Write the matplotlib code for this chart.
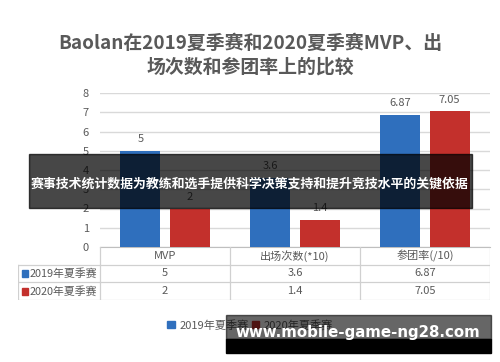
import matplotlib
matplotlib.use("Agg")
import matplotlib.pyplot as plt
from matplotlib.patches import Rectangle
from matplotlib.lines import Line2D
import numpy as np

plt.rcParams['font.family'] = ['Noto Sans CJK SC', 'DejaVu Sans']

# 数据
categories = ["MVP", "出场次数(*10)", "参团率(/10)"]
series_names = ["2019年夏季赛", "2020年夏季赛"]
values_2019 = [5, 3.6, 6.87]
values_2020 = [2, 1.4, 7.05]
labels_2019 = ["5", "3.6", "6.87"]
labels_2020 = ["2", "1.4", "7.05"]
yticks = [0, 1, 2, 3, 4, 5, 6, 7, 8]

title = "Baolan在2019夏季赛和2020夏季赛MVP、出\n场次数和参团率上的比较"
overlay_text = "赛事技术统计数据为教练和选手提供科学决策支持和提升竞技水平的关键依据"
watermark = "www.mobile-game-ng28.com"

c2019 = "#2F6FBD"
c2020 = "#C3302C"
gray = "#595959"
grid = "#D9D9D9"

W, H = 500, 362
fig = plt.figure(figsize=(5, 3.62), dpi=100)

def fx(px):
    return px / W

def fy(py):
    return 1 - py / H

# 主图
ax = fig.add_axes([fx(100), fy(247), fx(490) - fx(100), fy(93) - fy(247)])
x = np.arange(len(categories))
w = 0.31
off = 0.19
ax.bar(x - off, values_2019, w, color=c2019, zorder=3)
ax.bar(x + off, values_2020, w, color=c2020, zorder=3)
for i in range(len(categories)):
    ax.text(x[i] - off, values_2019[i] + 0.35, labels_2019[i], ha="center", va="bottom",
            fontsize=8, color=gray)
    ax.text(x[i] + off, values_2020[i] + 0.35, labels_2020[i], ha="center", va="bottom",
            fontsize=8, color=gray)
ax.set_xlim(-0.5, len(categories) - 0.5)
ax.set_ylim(0, 8)
ax.set_yticks(yticks)
ax.set_yticklabels([str(t) for t in yticks], fontsize=8, color=gray)
ax.set_xticks([])
ax.tick_params(axis="y", length=0, pad=8)
ax.yaxis.grid(True, color=grid, linewidth=1, zorder=0)
for s in ["top", "left", "right"]:
    ax.spines[s].set_visible(False)
ax.spines["bottom"].set_color("#BFBFBF")

# 表格
tx0 = -0.5 - (100 - 18) / 130.0
tab = fig.add_axes([fx(18), fy(300), fx(490) - fx(18), fy(247) - fy(300)])
tab.set_xlim(tx0, len(categories) - 0.5)
tab.set_ylim(3, 0)
tab.axis("off")
lc = "#D0D0D0"
for yy in [1, 2, 3]:
    tab.add_line(Line2D([tx0, len(categories) - 0.5], [yy, yy], color=lc, lw=0.9))
for xx in np.arange(len(categories) + 1) - 0.5:
    tab.add_line(Line2D([xx, xx], [0, 3], color=lc, lw=0.9))
tab.add_line(Line2D([tx0, tx0], [1, 3], color=lc, lw=0.9))
for i, c in enumerate(categories):
    tab.text(i, 0.5, c, ha="center", va="center", fontsize=8, color=gray)
    tab.text(i, 1.5, labels_2019[i], ha="center", va="center", fontsize=8, color=gray)
    tab.text(i, 2.5, labels_2020[i], ha="center", va="center", fontsize=8, color=gray)
for r, (name, col) in enumerate(zip(series_names, [c2019, c2020])):
    tab.add_patch(Rectangle((tx0 + 0.031, r + 1.33), 0.046, 0.36, color=col))
    tab.text(tx0 + 0.09, r + 1.5, name, ha="left", va="center", fontsize=7.8, color=gray)

# 图例
handles = [Rectangle((0, 0), 1, 1, color=c2019), Rectangle((0, 0), 1, 1, color=c2020)]
fig.legend(handles, series_names, loc="center", bbox_to_anchor=(0.5, fy(325)), ncol=2,
           frameon=False, fontsize=8, handlelength=0.7, handleheight=0.7,
           handletextpad=0.4, columnspacing=0.3, labelcolor=gray)

# 标题
fig.text(0.5, fy(55), title, ha="center", va="center", fontsize=13.6, fontweight="bold",
         color=gray, linespacing=1.3)

# 遮罩条
fig.add_artist(Rectangle((fx(29), fy(208)), fx(472) - fx(29), fy(154) - fy(208),
                         transform=fig.transFigure, color="black", alpha=0.72, zorder=10))
fig.text(fx(250), fy(184), overlay_text, ha="center", va="center", fontsize=9.3,
         fontweight="bold", color="white", zorder=11)

# 水印
fig.add_artist(Rectangle((fx(226), fy(339)), fx(491) - fx(226), fy(315) - fy(339),
                         transform=fig.transFigure, color="black", alpha=0.6, zorder=10))
fig.add_artist(Rectangle((fx(226), fy(353)), fx(491) - fx(226), fy(339) - fy(353),
                         transform=fig.transFigure, color="black", zorder=10))
fig.text(fx(358), fy(333), watermark, ha="center", va="center", fontsize=10.8,
         fontweight="bold", color="white", family="DejaVu Sans", zorder=11)

fig.savefig("out.png", dpi=100)
